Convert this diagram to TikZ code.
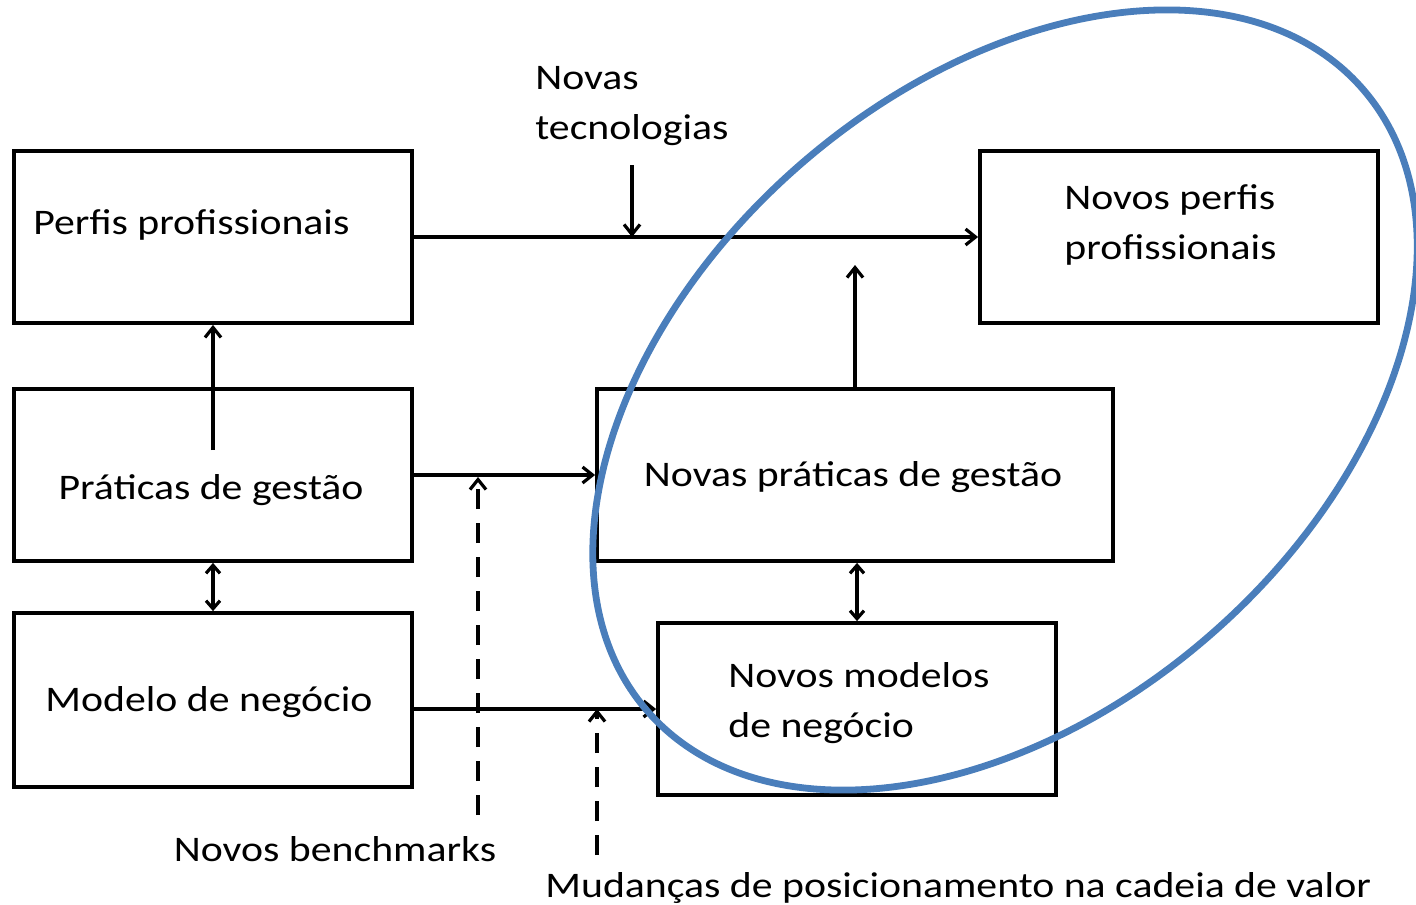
\documentclass[tikz,border=0pt]{standalone}
\usepackage{fontspec}
\setmainfont{Carlito}[FakeStretch=1.16]
\usetikzlibrary{arrows.meta}
\definecolor{ellblue}{HTML}{4A7EBB}
\begin{document}
\begin{tikzpicture}[x=0.5pt,y=-0.5pt,
  box/.style={draw, line width=1.9pt, minimum width=199pt, minimum height=86pt, inner sep=0pt},
  lbl/.style={font=\fontsize{18}{25}\selectfont, inner sep=0pt, align=left},
  conn/.style={line width=1.6pt, -{Straight Barb[length=5pt,width=8pt,line width=1.6pt]}},
  bconn/.style={line width=1.6pt, {Straight Barb[length=4pt,width=7pt,line width=1.6pt]}-{Straight Barb[length=4pt,width=7pt,line width=1.6pt]}},
  dconn/.style={conn, dash pattern=on 10pt off 7pt}]
\useasboundingbox (0,0) rectangle (1416,904);
% boxes
\node[box] (perf) at (213,237) {};
\node[box] (prat) at (213,475) {};
\node[box, minimum height=87pt] (model) at (213,700) {};
\node[box] (nperf) at (1179,237) {};
\node[box, minimum width=258pt] (nprat) at (855,475) {};
\node[box] (nmod) at (857,709) {};
% texts
\node[lbl, anchor=west] (tperf) at (33,225) {Perfis profissionais};
\node[lbl] (tprat) at (211,490) {Práticas de gestão};
\node[lbl] (tmod) at (209,702) {Modelo de negócio};
\node[lbl, anchor=west] (tnperf) at (1064,225) {Novos perfis\\profissionais};
\node[lbl] (tnprat) at (853,477) {Novas práticas de gestão};
\node[lbl, anchor=west] (tnmod) at (728,703) {Novos modelos\\de negócio};
\node[lbl, anchor=west] (ttec) at (535,106) {Novas\\tecnologias};
\node[lbl] (tbench) at (335,849) {Novos benchmarks};
\node[lbl, anchor=west] (tmud) at (545,888) {Mudanças de posicionamento na cadeia de valor};
% free-end coordinates
\coordinate (c1) at (213,450);
\coordinate (c2) at (855,265);
\coordinate (t1) at (632,165);
\coordinate (t2) at (632,237);
\coordinate (b1) at (478,815);
\coordinate (b2) at (478,477);
\coordinate (m1) at (597,855);
\coordinate (m2) at (597,709);
% connectors
\draw[conn] (perf.east) -- (nperf.west);
\draw[conn] (prat.east) -- (nprat.west);
\draw[conn] (nmod.west -| model.east) -- (nmod.west);
\draw[conn] (c1) -- (perf.south);
\draw[bconn] (prat.south) -- (model.north);
\draw[conn] (nprat.north) -- (c2);
\draw[bconn] (nprat.south -| nmod.north) -- (nmod.north);
\draw[conn] (t1) -- (t2);
\draw[dconn] (b1) -- (b2);
\draw[dconn] (m1) -- (m2);
% ellipse
\draw[ellblue, line width=3.4pt, rotate around={41:(1005,400)}] (1005,400) ellipse [x radius=237pt, y radius=156pt];
\end{tikzpicture}
\end{document}
